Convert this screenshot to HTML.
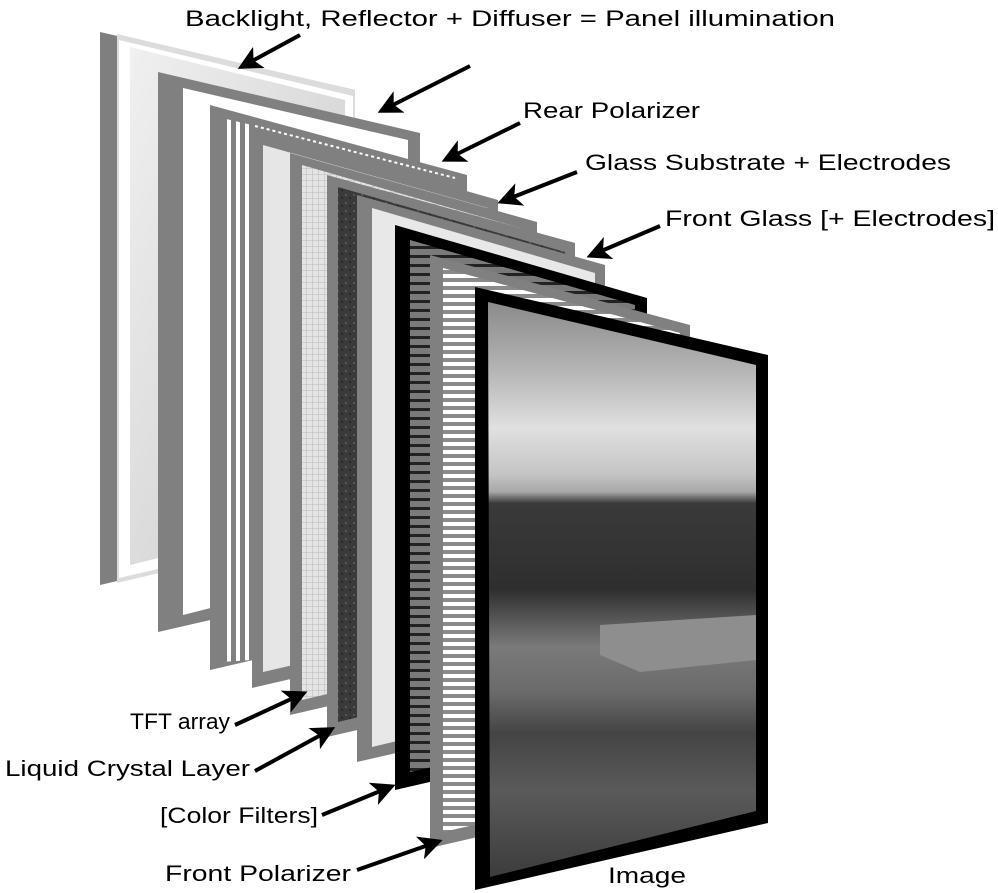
<!DOCTYPE html>
<html><head><meta charset="utf-8"><style>
html,body{margin:0;padding:0;background:#fff;}
svg{display:block;}
text{font-family:"Liberation Sans",sans-serif;font-size:22px;fill:#000;}
</style></head><body>
<svg width="998" height="893" viewBox="0 0 998 893" xmlns="http://www.w3.org/2000/svg">
<defs>
<marker id="ah" markerWidth="6" markerHeight="6" refX="4.5" refY="3" orient="auto" markerUnits="strokeWidth">
<path d="M0,0 L6,3 L0,6 L1.5,3 z" fill="#000"/></marker>
<linearGradient id="g1" x1="0" y1="0" x2="1" y2="1"><stop offset="0" stop-color="#f0f0f0"/><stop offset="1" stop-color="#c8c8c8"/></linearGradient>
<pattern id="vstripe" width="9" height="10" patternUnits="userSpaceOnUse"><rect width="9" height="10" fill="#808080"/><rect x="2" width="4" height="10" fill="#fff"/></pattern>
<pattern id="grid" width="6" height="6" patternUnits="userSpaceOnUse"><rect width="6" height="6" fill="#e4e4e4"/><path d="M0 0H6M0 0V6" stroke="#b8b8b8" stroke-width="1"/></pattern>
<pattern id="dark" width="8" height="8" patternUnits="userSpaceOnUse"><rect width="8" height="8" fill="#3a3a3a"/><rect x="1" y="2" width="2" height="2" fill="#555"/><rect x="5" y="5" width="2" height="2" fill="#2a2a2a"/></pattern>
<pattern id="hdark" width="10" height="9" patternUnits="userSpaceOnUse"><rect width="10" height="9" fill="#7a7a7a"/><rect y="3" width="10" height="3" fill="#222"/></pattern>
<pattern id="hwhite" width="10" height="8" patternUnits="userSpaceOnUse"><rect width="10" height="8" fill="#8a8a8a"/><rect y="2" width="10" height="4" fill="#fff"/></pattern>
<linearGradient id="photo" x1="0" y1="0" x2="0" y2="1">
<stop offset="0" stop-color="#8a8a8a"/><stop offset="0.12" stop-color="#b5b5b5"/><stop offset="0.22" stop-color="#e0e0e0"/><stop offset="0.3" stop-color="#c4c4c4"/><stop offset="0.33" stop-color="#a8a8a8"/>
<stop offset="0.35" stop-color="#3a3a3a"/><stop offset="0.5" stop-color="#2e2e2e"/><stop offset="0.55" stop-color="#555"/>
<stop offset="0.6" stop-color="#7a7a7a"/><stop offset="0.68" stop-color="#6a6a6a"/><stop offset="0.75" stop-color="#444"/><stop offset="0.85" stop-color="#5a5a5a"/><stop offset="1" stop-color="#3c3c3c"/></linearGradient>
</defs>

<!-- P1 backlight -->
<polygon points="100,32 355,90 355,526 100,585" fill="#7f7f7f"/>
<polygon points="117,34 355,90 355,526 117,583" fill="#dcdcdc"/>
<polygon points="119,40 353,96 353,524 119,578" fill="#fff"/>
<polygon points="130,47 345,100 345,512 130,565" fill="url(#g1)"/>
<!-- P2 reflector -->
<polygon points="158,72 420,133 420,572 158,632" fill="#808080"/>
<polygon points="183,88 408,140 408,558 183,615" fill="#fff"/>
<!-- P3 rear polarizer -->
<polygon points="210,105 467,175 467,611 210,670" fill="#808080"/>
<polygon points="222,118 252,125 252,660 222,662" fill="url(#vstripe)"/>
<line x1="255" y1="126" x2="455" y2="178" stroke="#fff" stroke-width="2" stroke-dasharray="3,3"/>
<!-- P4 glass substrate -->
<polygon points="252,130 498,200 498,631 252,688" fill="#808080"/>
<polygon points="263,145 488,208 488,620 263,672" fill="#e6e6e6"/>
<!-- P5 TFT -->
<polygon points="290,153 537,222 537,658 290,715" fill="#808080"/>
<polygon points="302,165 527,230 527,647 302,700" fill="url(#grid)"/>
<!-- P6 LC -->
<polygon points="327,175 575,243 575,680 327,737" fill="#808080"/>
<polygon points="338,187 565,252 565,668 338,722" fill="url(#dark)"/>
<!-- P7 front glass -->
<polygon points="357,195 605,265 605,705 357,762" fill="#808080"/>
<polygon points="372,208 595,273 595,693 372,747" fill="#e8e8e8"/>
<!-- P8 color filters -->
<polygon points="395,225 647,298 647,732 395,790" fill="#000"/>
<polygon points="410,240 635,305 635,722 410,772" fill="url(#hdark)"/>
<!-- P9 front polarizer -->
<polygon points="430,255 690,325 690,788 430,848" fill="#808080"/>
<polygon points="443,268 680,333 680,778 443,832" fill="url(#hwhite)"/>
<!-- P10 image -->
<polygon points="475,287 768,355 768,823 475,890" fill="#000"/>
<polygon points="488,302 756,365 756,811 490,877" fill="url(#photo)"/>
<polygon points="600,625 756,615 756,660 640,672 600,655" fill="#8e8e8e"/>

<!-- arrows -->
<g stroke="#000" stroke-width="4" fill="none" marker-end="url(#ah)">
<line x1="300" y1="35" x2="243" y2="66"/>
<line x1="470" y1="66" x2="383" y2="110"/>
<line x1="520" y1="123" x2="447" y2="159"/>
<line x1="577" y1="172" x2="503" y2="201"/>
<line x1="660" y1="226" x2="592" y2="255"/>
<line x1="235" y1="725" x2="302" y2="694"/>
<line x1="255" y1="771" x2="330" y2="730"/>
<line x1="322" y1="815" x2="390" y2="787"/>
<line x1="357" y1="870" x2="437" y2="842"/>
</g>

<text x="185" y="26" textLength="650" lengthAdjust="spacingAndGlyphs">Backlight, Reflector + Diffuser = Panel illumination</text>
<text x="523" y="118" textLength="177" lengthAdjust="spacingAndGlyphs">Rear Polarizer</text>
<text x="585" y="170" textLength="366" lengthAdjust="spacingAndGlyphs">Glass Substrate + Electrodes</text>
<text x="665" y="226" textLength="330" lengthAdjust="spacingAndGlyphs">Front Glass [+ Electrodes]</text>
<text x="130" y="729" textLength="100" lengthAdjust="spacingAndGlyphs">TFT array</text>
<text x="5" y="776" textLength="245" lengthAdjust="spacingAndGlyphs">Liquid Crystal Layer</text>
<text x="160" y="823" textLength="158" lengthAdjust="spacingAndGlyphs">[Color Filters]</text>
<text x="165" y="881" textLength="186" lengthAdjust="spacingAndGlyphs">Front Polarizer</text>
<text x="608" y="883" textLength="78" lengthAdjust="spacingAndGlyphs">Image</text>
</svg>
</body></html>
